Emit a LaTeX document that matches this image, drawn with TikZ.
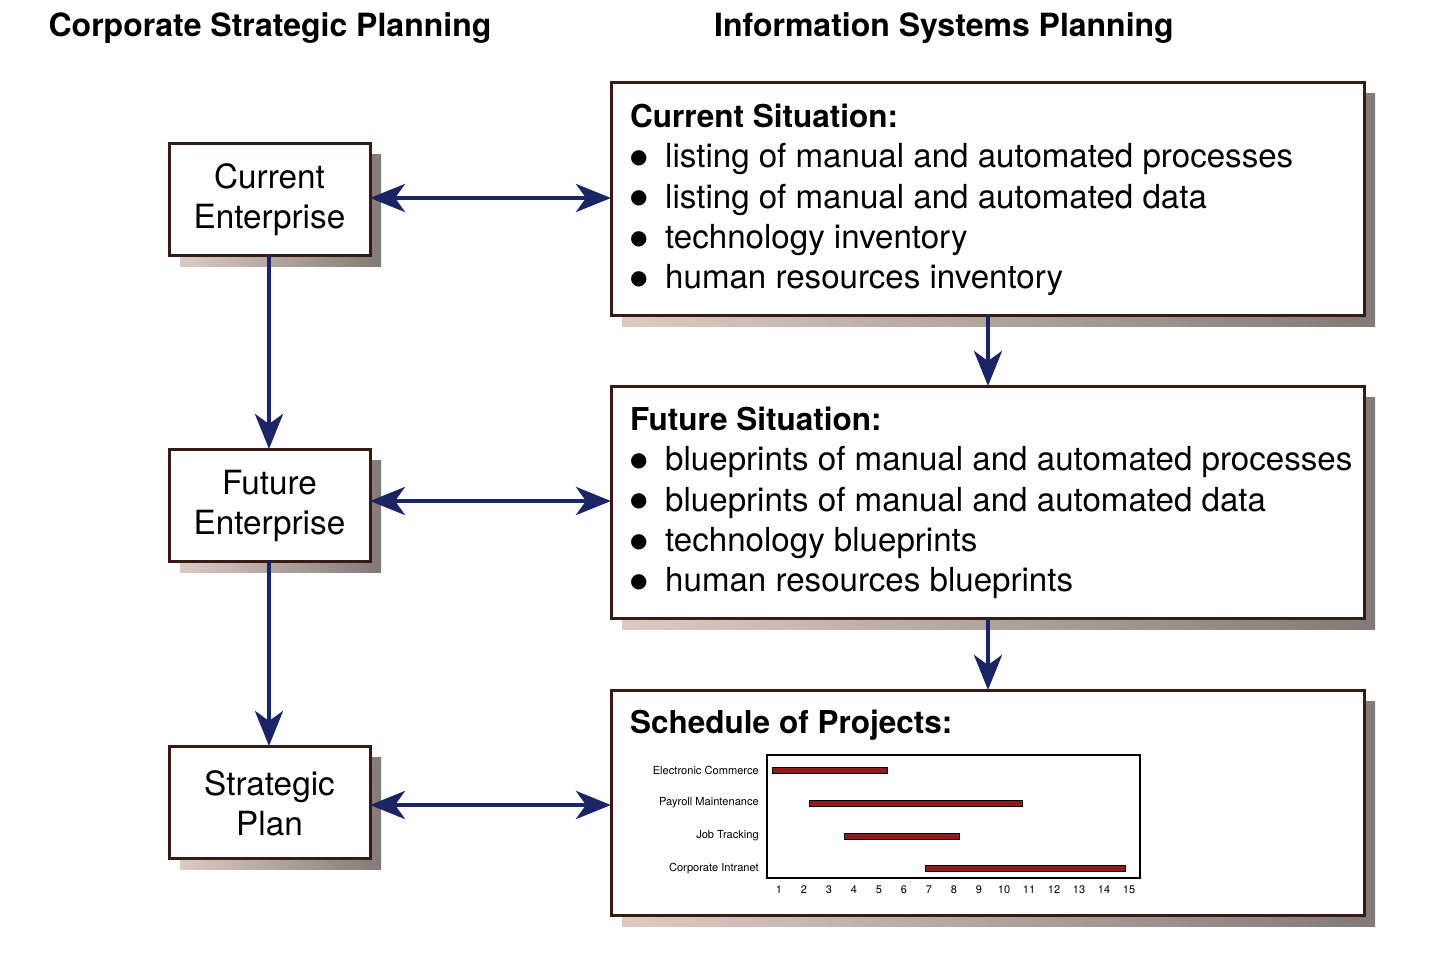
\documentclass[tikz,border=0pt]{standalone}
\usepackage{fontspec}
\setmainfont{TeX Gyre Heros}
\newfontfamily\djv{DejaVu Sans}
\usetikzlibrary{arrows.meta,shadings}
\definecolor{boxline}{HTML}{3A1A16}
\definecolor{arrowblue}{HTML}{1B2465}
\definecolor{shadowL}{HTML}{DCCBC3}
\definecolor{shadowR}{HTML}{827A76}
\definecolor{barred}{HTML}{8E1B1B}
\tikzset{
  boxstyle/.style={draw=boxline, line width=3pt, fill=white, inner sep=0pt},
  shadowstyle/.style={left color=shadowL, right color=shadowR, draw=none},
  conn/.style={draw=arrowblue, line width=4.5pt, -{Stealth[length=35pt,width=28pt,inset=10pt]}},
  biconn/.style={draw=arrowblue, line width=4.5pt, {Stealth[length=35pt,width=28pt,inset=10pt]}-{Stealth[length=35pt,width=28pt,inset=10pt]}},
  headtitle/.style={font=\fontsize{32}{38}\selectfont\bfseries, inner sep=0pt},
  lefttext/.style={font=\fontsize{33.3}{40}\selectfont, align=center, inner sep=0pt},
  listtext/.style={font=\fontsize{33.1}{40.3}\selectfont, align=left, inner sep=0pt, anchor=north west},
  ganttlabel/.style={font=\fontsize{11.1}{13}\selectfont, anchor=east, inner sep=0pt},
  ganttnum/.style={font=\fontsize{11}{13}\selectfont, inner sep=0pt},
  ganttbar/.style={draw=black, line width=0.8pt, fill=barred},
}
\newcommand{\bul}{\makebox[35pt][l]{\raisebox{4.5pt}{\djv\fontsize{20}{20}\selectfont ●}}}
\newcommand{\hd}[1]{{\fontsize{31.5}{40.3}\selectfont\bfseries #1}}
\begin{document}
\begin{tikzpicture}[x=1pt,y=-1pt]
\useasboundingbox (0,0) rectangle (1436,972);
% titles
\node[headtitle] (t1) at (270,28) {Corporate Strategic Planning};
\node[headtitle] (t2) at (944,28) {Information Systems Planning};
% shadows
\foreach \a/\b/\c/\d in {169/143/370/255, 169/449/370/561, 169/746/370/858, 611/82/1364/315, 611/386/1364/618, 611/690/1364/915}{
  \fill[shadowstyle] (\a+11,\b+11) rectangle (\c+11,\d+11);
}
% left boxes
\draw[boxstyle] (169,143) rectangle (370,255);
\node[lefttext] (ce) at (269.5,200) {Current\\Enterprise};
\draw[boxstyle] (169,449) rectangle (370,561);
\node[lefttext] (fe) at (269.5,506) {Future\\Enterprise};
\draw[boxstyle] (169,746) rectangle (370,858);
\node[lefttext] (sp) at (269.5,803) {Strategic\\Plan};
% connector end points on the boxes
\coordinate (ceT) at (269,255); \coordinate (feTop) at (269,449);
\coordinate (feB) at (269,561); \coordinate (spTop) at (269,746);
\coordinate (ceR) at (370,198); \coordinate (feR) at (370,501); \coordinate (spR) at (370,805);
\coordinate (csL) at (611,198); \coordinate (fsL) at (611,501); \coordinate (scL) at (611,805);
\coordinate (csB) at (988,315); \coordinate (fsT) at (988,386);
\coordinate (fsB) at (988,618); \coordinate (scT) at (988,690);
% right boxes
\draw[boxstyle] (611,82) rectangle (1364,315);
\node[listtext] (cs) at (630,104) {\hd{Current Situation:}\\
\bul listing of manual and automated processes\\
\bul listing of manual and automated data\\
\bul technology inventory\\
\bul human resources inventory};
\draw[boxstyle] (611,386) rectangle (1364,618);
\node[listtext] (fs) at (630,407) {\hd{Future Situation:}\\
\bul blueprints of manual and automated processes\\
\bul blueprints of manual and automated data\\
\bul technology blueprints\\
\bul human resources blueprints};
\draw[boxstyle] (611,690) rectangle (1364,915);
\node[listtext] (sc) at (630,710) {\hd{Schedule of Projects:}};
% gantt chart
\draw[draw=black, line width=1.6pt] (767,755) rectangle (1140,878);
\node[ganttlabel] (g1) at (759,770) {Electronic Commerce};
\node[ganttlabel] (g2) at (759,803) {Payroll Maintenance};
\node[ganttlabel] (g3) at (759,836) {Job Tracking};
\node[ganttlabel] (g4) at (759,869) {Corporate Intranet};
\draw[ganttbar] (772,767) rectangle (887,773);
\draw[ganttbar] (809,800) rectangle (1022,806);
\draw[ganttbar] (844,833) rectangle (959,839);
\draw[ganttbar] (925,865) rectangle (1125,871);
\foreach \n in {1,...,15}{
  \node[ganttnum] (n\n) at ({779+(\n-1)*25},890) {\n};
}
% connectors
\draw[conn] (ceT) -- (feTop);
\draw[conn] (feB) -- (spTop);
\draw[conn] (csB) -- (fsT);
\draw[conn] (fsB) -- (scT);
\draw[biconn] (ceR) -- (csL);
\draw[biconn] (feR) -- (fsL);
\draw[biconn] (spR) -- (scL);
\end{tikzpicture}
\end{document}
